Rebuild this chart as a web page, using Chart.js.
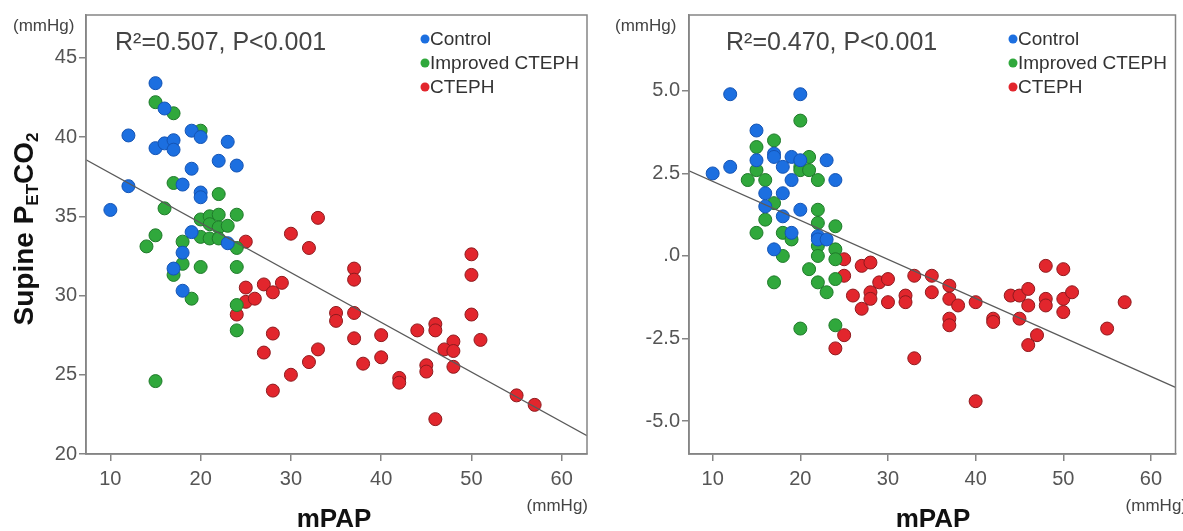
<!DOCTYPE html>
<html lang="en">
<head>
    <title>PETCO2 vs mPAP</title>
    <meta charset="utf-8">
    <script src="https://cdn.jsdelivr.net/npm/chart.js@4/dist/chart.umd.min.js"></script>
    <style>
        body { margin: 0; background: #fff; }
        #wrap { position: relative; width: 1183px; height: 531px; overflow: hidden; }
        #supineChart { position: absolute; left: 0; top: 0; }
        #deltaChart { position: absolute; left: 600px; top: 0; }
    </style>
</head>
<body>
    <div id="wrap">
        <canvas id="supineChart" width="600" height="531"></canvas>
        <canvas id="deltaChart" width="583" height="531"></canvas>
    </div>

    <script>
        // x axis (mPAP) shared by both panels
        var xTicks = [10, 20, 30, 40, 50, 60];
        var xMin = 7.3, xMax = 62.8;
        var groupNames = ['Control', 'Improved CTEPH', 'CTEPH'];

        // Left panel: supine PETCO2 [mPAP, value]
        var supineControl = [
            [15, 43.4], [16, 41.8], [12, 40.1], [15, 39.3], [16, 39.6], [17, 39.8], [17, 39.2], [19, 40.4],
            [20, 40.0], [23, 39.7], [19, 38.0], [22, 38.5], [24, 38.2], [12, 36.9], [18, 37.0], [20, 36.5],
            [20, 36.2], [10, 35.4], [19, 34.0], [23, 33.3], [18, 32.7], [17, 31.7], [18, 30.3]
        ];
        var supineImproved = [
            [15, 42.2], [17, 41.5], [20, 40.4], [17, 37.1], [22, 36.4], [16, 35.5], [20, 34.8], [21, 35.0],
            [22, 35.1], [24, 35.1], [21, 34.5], [22, 34.3], [23, 34.4], [15, 33.8], [14, 33.1], [18, 33.4],
            [20, 33.7], [21, 33.6], [22, 33.6], [24, 33.0], [18, 32.0], [20, 31.8], [24, 31.8], [17, 31.3],
            [19, 29.8], [24, 29.4], [24, 27.8], [15, 24.6]
        ];
        var supineCteph = [
            [25, 33.4], [30, 33.9], [33, 34.9], [32, 33.0], [50, 32.6], [37, 31.7], [37, 31.0], [25, 30.5],
            [27, 30.7], [28, 30.2], [29, 30.8], [25, 29.6], [26, 29.8], [24, 28.8], [28, 27.6], [27, 26.4],
            [30, 25.0], [28, 24.0], [35, 28.9], [35, 28.4], [37, 28.9], [37, 27.3], [40, 27.5], [40, 26.1],
            [38, 25.7], [33, 26.6], [32, 25.8], [44, 27.8], [46, 28.2], [46, 27.8], [50, 31.3], [50, 28.8],
            [51, 27.2], [48, 27.1], [47, 26.6], [48, 26.5], [48, 25.5], [45, 25.6], [45, 25.2], [42, 24.8],
            [42, 24.5], [46, 22.2], [55, 23.7], [57, 23.1]
        ];
        var supineFit = { intercept: 40.85, slope: -0.3136 };
        var supineYTicks = [20, 25, 30, 35, 40, 45];
        var supineYTickLabels = ['20', '25', '30', '35', '40', '45'];

        // Right panel: delta PETCO2 [mPAP, value]
        var deltaControl = [
            [12, 4.9], [20, 4.9], [10, 2.5], [12, 2.7], [15, 3.8], [15, 2.9], [17, 3.1], [17, 3.0],
            [18, 2.7], [19, 3.0], [20, 2.9], [23, 2.9], [19, 2.3], [24, 2.3], [16, 1.9], [18, 1.9],
            [16, 1.5], [20, 1.4], [18, 1.2], [19, 0.7], [22, 0.6], [22, 0.5], [23, 0.5], [17, 0.2]
        ];
        var deltaImproved = [
            [20, 4.1], [15, 3.3], [17, 3.5], [20, 2.7], [21, 3.0], [20, 2.6], [21, 2.6], [15, 2.6],
            [14, 2.3], [16, 2.3], [22, 2.3], [17, 1.6], [16, 1.1], [22, 1.4], [22, 1.0], [24, 0.9],
            [15, 0.7], [18, 0.7], [19, 0.5], [22, 0.3], [24, 0.2], [18, 0.0], [22, 0.0], [24, -0.1],
            [21, -0.4], [17, -0.8], [22, -0.8], [23, -1.1], [24, -0.7], [20, -2.2], [24, -2.1]
        ];
        var deltaCteph = [
            [25, -0.1], [25, -0.6], [27, -0.3], [28, -0.2], [29, -0.8], [30, -0.7], [26, -1.2], [28, -1.1],
            [28, -1.3], [30, -1.4], [27, -1.6], [25, -2.4], [24, -2.8], [33, -0.6], [35, -0.6], [35, -1.1],
            [32, -1.2], [32, -1.4], [37, -0.9], [37, -1.3], [38, -1.5], [37, -1.9], [37, -2.1], [40, -1.4],
            [42, -1.9], [42, -2.0], [44, -1.2], [45, -1.2], [46, -1.0], [46, -1.5], [45, -1.9], [48, -0.3],
            [50, -0.4], [48, -1.3], [48, -1.5], [50, -1.3], [50, -1.7], [51, -1.1], [47, -2.4], [46, -2.7],
            [55, -2.2], [57, -1.4], [33, -3.1], [40, -4.4]
        ];
        var deltaFit = { intercept: 3.44, slope: -0.1182 };
        var deltaYTicks = [-5, -2.5, 0, 2.5, 5];
        var deltaYTickLabels = ['-5.0', '-2.5', '.0', '2.5', '5.0'];

        var FONT = "'Liberation Sans', Arial, sans-serif";
        var fills = ['#1c6fe0', '#30a83c', '#e2262d'];
        var borders = ['#1454b4', '#1f7a2a', '#8e1a1e'];

        function toPoints(arr) {
            return arr.map(function (p) { return { x: p[0], y: p[1] }; });
        }

        // draws the box, titles, annotation and legend for one panel
        function panelText(cfg) {
            return {
                id: 'panelText',
                afterDatasetsDraw: function (chart) {
                    var ctx = chart.ctx;
                    var a = chart.chartArea;
                    ctx.save();

                    // plot box
                    ctx.strokeStyle = '#858585';
                    ctx.lineWidth = 1.5;
                    ctx.strokeRect(a.left, a.top, a.right - a.left, a.bottom - a.top);

                    // units
                    ctx.fillStyle = '#444';
                    ctx.font = '17px ' + FONT;
                    ctx.textBaseline = 'alphabetic';
                    ctx.textAlign = 'left';
                    ctx.fillText('(mmHg)', cfg.unitX, 31);
                    ctx.textAlign = 'right';
                    ctx.fillText('(mmHg)', cfg.xUnitRight, 511);

                    // x title
                    ctx.fillStyle = '#111';
                    ctx.font = 'bold 26px ' + FONT;
                    ctx.textAlign = 'center';
                    ctx.fillText('mPAP', cfg.xTitleX, 527);

                    // R2 annotation
                    ctx.fillStyle = '#444';
                    ctx.font = '25px ' + FONT;
                    ctx.textAlign = 'left';
                    ctx.fillText(cfg.stat, cfg.statX, 50);

                    // legend
                    ctx.font = '19px ' + FONT;
                    ctx.textBaseline = 'middle';
                    for (var i = 0; i < groupNames.length; i++) {
                        var ly = 39 + i * 24;
                        ctx.beginPath();
                        ctx.arc(cfg.legendX, ly, 4.5, 0, Math.PI * 2);
                        ctx.fillStyle = fills[i];
                        ctx.fill();
                        ctx.fillStyle = '#333';
                        ctx.fillText(groupNames[i], cfg.legendX + 5, ly + 1);
                    }

                    // rotated y title with subscripts
                    var big = 'bold 28px ' + FONT, small = 'bold 17px ' + FONT;
                    var parts = cfg.yTitle;
                    var total = 0;
                    parts.forEach(function (p) {
                        ctx.font = p.sub ? small : big;
                        total += ctx.measureText(p.t).width;
                    });
                    ctx.translate(cfg.yTitleX, cfg.yTitleY);
                    ctx.rotate(-Math.PI / 2);
                    ctx.textBaseline = 'alphabetic';
                    ctx.fillStyle = '#111';
                    var pos = -total / 2;
                    parts.forEach(function (p) {
                        ctx.font = p.sub ? small : big;
                        ctx.fillText(p.t, pos, p.sub ? 5 : 0);
                        pos += ctx.measureText(p.t).width;
                    });
                    ctx.restore();
                }
            };
        }

        function makePanel(canvasId, groups, fit, yMin, yMax, yTicks, yLabels, layout, cfg) {
            var datasets = groups.map(function (g, i) {
                return {
                    label: groupNames[i],
                    data: toPoints(g),
                    backgroundColor: fills[i],
                    borderColor: borders[i],
                    borderWidth: 1,
                    pointRadius: 6.5,
                    order: 1
                };
            });
            datasets.push({
                type: 'line',
                label: 'fit',
                data: [xMin, xMax].map(function (x) { return { x: x, y: fit.intercept + fit.slope * x }; }),
                borderColor: '#5a5a5a',
                borderWidth: 1.3,
                pointRadius: 0,
                fill: false,
                order: 0
            });

            return new Chart(document.getElementById(canvasId), {
                type: 'scatter',
                data: { datasets: datasets },
                plugins: [panelText(cfg)],
                options: {
                    responsive: false,
                    animation: false,
                    events: [],
                    devicePixelRatio: 1,
                    layout: { padding: { top: 15, right: layout.right, left: 0, bottom: 0 } },
                    plugins: { legend: { display: false }, tooltip: { enabled: false } },
                    scales: {
                        x: {
                            type: 'linear',
                            min: xMin,
                            max: xMax,
                            afterBuildTicks: function (s) { s.ticks = xTicks.map(function (v) { return { value: v }; }); },
                            afterFit: function (s) { s.height = 77; },
                            ticks: { color: '#555', font: { size: 20, family: FONT }, padding: 6 },
                            grid: { drawOnChartArea: false, tickLength: 7, color: '#858585', lineWidth: 1.5 },
                            border: { color: '#858585', width: 1.5 }
                        },
                        y: {
                            type: 'linear',
                            min: yMin,
                            max: yMax,
                            afterBuildTicks: function (s) { s.ticks = yTicks.map(function (v) { return { value: v }; }); },
                            afterFit: function (s) { s.width = layout.yWidth; },
                            ticks: {
                                color: '#555',
                                font: { size: 20, family: FONT },
                                padding: 2,
                                callback: function (v) { return yLabels[yTicks.indexOf(v)]; }
                            },
                            grid: { drawOnChartArea: false, tickLength: 7, color: '#858585', lineWidth: 1.5 },
                            border: { color: '#858585', width: 1.5 }
                        }
                    }
                }
            });
        }

        makePanel('supineChart', [supineControl, supineImproved, supineCteph], supineFit,
            20, 47.7, supineYTicks, supineYTickLabels,
            { right: 13, yWidth: 86 },
            {
                unitX: 13, xUnitRight: 588, xTitleX: 334, statX: 115, stat: 'R\u00b2=0.507, P<0.001',
                legendX: 425, yTitleX: 33, yTitleY: 229,
                yTitle: [{ t: 'Supine P' }, { t: 'ET', sub: true }, { t: 'CO' }, { t: '2', sub: true }]
            });

        makePanel('deltaChart', [deltaControl, deltaImproved, deltaCteph], deltaFit,
            -6, 7.3, deltaYTicks, deltaYTickLabels,
            { right: 4, yWidth: 89 },
            {
                unitX: 15, xUnitRight: 587, xTitleX: 333, statX: 126, stat: 'R\u00b2=0.470, P<0.001',
                legendX: 413, yTitleX: 633, yTitleY: 235,
                yTitle: [{ t: '\u0394P' }, { t: 'ET', sub: true }, { t: 'CO' }, { t: '2', sub: true }]
            });
    </script>
</body>
</html>
